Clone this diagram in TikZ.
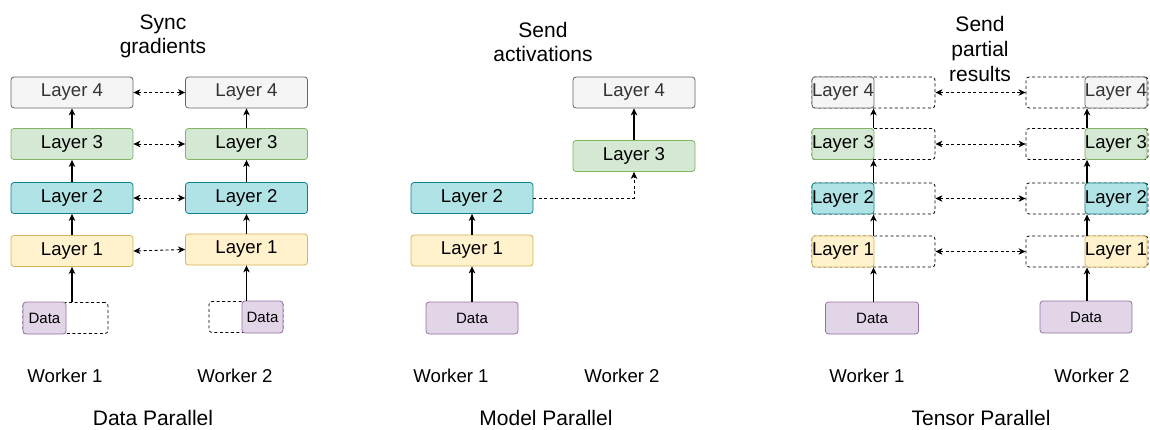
\documentclass[tikz,border=0pt]{standalone}
\usepackage{fontspec}
\setmainfont{Liberation Sans}
\usetikzlibrary{arrows.meta,positioning,calc}
\definecolor{g4f}{HTML}{F5F5F5}\definecolor{g4d}{HTML}{666666}\definecolor{g4t}{HTML}{333333}
\definecolor{g3f}{HTML}{D5E8D4}\definecolor{g3d}{HTML}{82B366}
\definecolor{g2f}{HTML}{B0E3E6}\definecolor{g2d}{HTML}{0E8088}
\definecolor{g1f}{HTML}{FFF2CC}\definecolor{g1d}{HTML}{D6B656}
\definecolor{gdf}{HTML}{E1D5E7}\definecolor{gdd}{HTML}{9673A6}
\tikzset{
  box/.style={draw, rounded corners=3pt, minimum width=122pt, minimum height=31pt, line width=0.8pt, inner sep=0pt, font=\fontsize{18.6}{20}\selectfont},
  lay4/.style={box, fill=g4f, draw=g4d, text=g4t},
  lay3/.style={box, fill=g3f, draw=g3d},
  lay2/.style={box, fill=g2f, draw=g2d},
  lay1/.style={box, fill=g1f, draw=g1d},
  datab/.style={box, fill=gdf, draw=gdd, minimum height=32pt, font=\fontsize{15}{17}\selectfont},
  ghost/.style={draw, dashed, dash pattern=on 3pt off 2.5pt, rounded corners=3pt, minimum height=31pt, line width=0.8pt, inner sep=0pt},
  arr/.style={-{Stealth[length=7pt,width=6.5pt,inset=2pt]}, line width=1.1pt},
  darr/.style={{Stealth[length=7pt,width=6.5pt,inset=2pt]}-{Stealth[length=7pt,width=6.5pt,inset=2pt]}, line width=0.9pt, dash pattern=on 3pt off 2.5pt},
  head/.style={anchor=base, align=center, font=\fontsize{21}{24.5}\selectfont},
  worker/.style={anchor=base, font=\fontsize{18.6}{20}\selectfont},
  title/.style={anchor=base, font=\fontsize{21}{24}\selectfont},
}
\begin{document}
\begin{tikzpicture}[x=1pt,y=-1pt]
\useasboundingbox (0,0) rectangle (1150,430);
% ================= Data Parallel =================
\node[lay4] (a4) at (72,92.5) {Layer 4};
\node[lay3] (a3) at (72,144) {Layer 3};
\node[lay2] (a2) at (72,198) {Layer 2};
\node[lay1] (a1) at (72,251) {Layer 1};
\node[lay4] (b4) at (246.5,92.5) {Layer 4};
\node[lay3] (b3) at (246.5,144) {Layer 3};
\node[lay2] (b2) at (246.5,198) {Layer 2};
\node[lay1] (b1) at (246.5,249.5) {Layer 1};
\node[ghost, minimum width=85pt] (ga) at (65.5,318) {};
\node[datab, minimum width=43pt, anchor=west] (da) at (ga.west) {Data};
\node[ghost, minimum width=74pt] (gb) at (246,317) {};
\node[datab, minimum width=41pt, anchor=east] (db) at (gb.east) {Data};
\draw[arr] (a1.north) -- (a2.south);
\draw[arr] (a2.north) -- (a3.south);
\draw[arr] (a3.north) -- (a4.south);
\draw[arr] (b1.north) -- (b2.south);
\draw[arr] (b2.north) -- (b3.south);
\draw[arr] (b3.north) -- (b4.south);
\draw[arr] (ga.north -| a1.south) -- (a1.south);
\draw[arr] (gb.north -| b1.south) -- (b1.south);
\draw[darr] (a4.east) -- (b4.west);
\draw[darr] (a3.east) -- (b3.west);
\draw[darr] (a2.east) -- (b2.west);
\draw[darr] (a1.east) -- (b1.west);
\node[head] (hs) at (163,54) {Sync\\gradients};
\node[worker] (wa1) at (65,382) {Worker 1};
\node[worker] (wa2) at (235,382) {Worker 2};
\node[title] (ta) at (153,425) {Data Parallel};
% ================= Model Parallel =================
\node[lay2] (m2) at (472,198) {Layer 2};
\node[lay1] (m1) at (472,250.5) {Layer 1};
\node[datab, minimum width=92pt] (md) at (472,318) {Data};
\node[lay3] (m3) at (634,156) {Layer 3};
\node[lay4] (m4) at (634,92.5) {Layer 4};
\draw[arr] (md.north) -- (m1.south);
\draw[arr] (m1.north) -- (m2.south);
\draw[arr] (m3.north) -- (m4.south);
\draw[arr, dash pattern=on 3pt off 2.5pt, line width=0.9pt] (m2.east) -| (m3.south);
\node[head] (hm) at (543,62) {Send\\activations};
\node[worker] (wm1) at (451,382) {Worker 1};
\node[worker] (wm2) at (622,382) {Worker 2};
\node[title] (tm) at (546,425) {Model Parallel};
% ================= Tensor Parallel =================
\node[ghost, minimum width=123pt] (p4) at (873.5,92.5) {};
\node[ghost, minimum width=123pt] (p3) at (873.5,144) {};
\node[ghost, minimum width=123pt] (p2) at (873.5,198.5) {};
\node[ghost, minimum width=123pt] (p1) at (873.5,251.5) {};
\node[lay4, minimum width=62pt, anchor=west] (s4) at (p4.west) {Layer 4};
\node[lay3, minimum width=62pt, anchor=west] (s3) at (p3.west) {Layer 3};
\node[lay2, minimum width=62pt, anchor=west] (s2) at (p2.west) {Layer 2};
\node[lay1, minimum width=62pt, anchor=west] (s1) at (p1.west) {Layer 1};
\node[datab, minimum width=93pt] (pd) at (872,318) {Data};
\node[ghost, minimum width=122pt] (q4) at (1087,92.5) {};
\node[ghost, minimum width=122pt] (q3) at (1087,144) {};
\node[ghost, minimum width=122pt] (q2) at (1087,198.5) {};
\node[ghost, minimum width=122pt] (q1) at (1087,251.5) {};
\node[lay4, minimum width=61pt, anchor=east] (r4) at ([xshift=-1pt]q4.east) {Layer 4};
\node[lay3, minimum width=61pt, anchor=east] (r3) at ([xshift=-1pt]q3.east) {Layer 3};
\node[lay2, minimum width=61pt, anchor=east] (r2) at ([xshift=-1pt]q2.east) {Layer 2};
\node[lay1, minimum width=61pt, anchor=east] (r1) at ([xshift=-1pt]q1.east) {Layer 1};
\node[datab, minimum width=92pt] (qd) at (1086,317) {Data};
\draw[arr] (pd.north -| p1.south) -- (p1.south);
\draw[arr] (p1.north) -- (p2.south);
\draw[arr] (p2.north) -- (p3.south);
\draw[arr] (p3.north) -- (p4.south);
\draw[arr] (qd.north -| q1.south) -- (q1.south);
\draw[arr] (q1.north) -- (q2.south);
\draw[arr] (q2.north) -- (q3.south);
\draw[arr] (q3.north) -- (q4.south);
\draw[darr] (p4.east) -- (q4.west);
\draw[darr] (p3.east) -- (q3.west);
\draw[darr] (p2.east) -- (q2.west);
\draw[darr] (p1.east) -- (q1.west);
\node[head, align=center, font=\fontsize{21}{25}\selectfont] (hp) at (980,82) {Send\\partial\\results};
\node[worker] (wp1) at (867,382) {Worker 1};
\node[worker] (wp2) at (1092,382) {Worker 2};
\node[title] (tp) at (981,425) {Tensor Parallel};
\end{tikzpicture}
\end{document}
